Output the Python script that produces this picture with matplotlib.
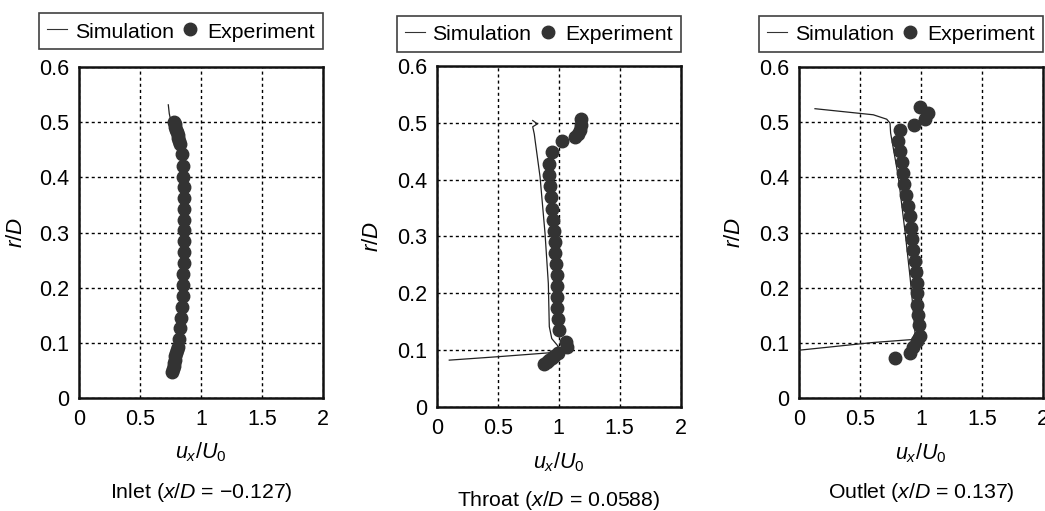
import matplotlib
matplotlib.use("Agg")
import matplotlib.pyplot as plt
from matplotlib.lines import Line2D

plt.rcParams['font.family'] = ['Liberation Sans', 'DejaVu Sans']
plt.rcParams['mathtext.fontset'] = 'custom'
plt.rcParams['mathtext.rm'] = 'Liberation Sans'
plt.rcParams['mathtext.it'] = 'Liberation Sans:italic'
plt.rcParams['mathtext.bf'] = 'Liberation Sans:bold'

# ---------------- data ----------------
# Inlet
inlet_exp_x = [0.775, 0.783, 0.790, 0.797, 0.804, 0.810, 0.815, 0.820, 0.826, 0.842, 0.850, 0.855,
               0.858, 0.861, 0.861, 0.861, 0.861, 0.861, 0.858, 0.858, 0.855, 0.852, 0.850,
               0.843, 0.836, 0.828, 0.820, 0.808, 0.800, 0.795, 0.790, 0.785, 0.780, 0.775,
               0.770, 0.766]
inlet_exp_y = [0.500, 0.496, 0.491, 0.486, 0.481, 0.476, 0.471, 0.466, 0.461, 0.442, 0.421, 0.401,
               0.382, 0.362, 0.343, 0.323, 0.304, 0.284, 0.264, 0.245, 0.225, 0.205, 0.185,
               0.166, 0.146, 0.127, 0.107, 0.092, 0.087, 0.082, 0.076, 0.070, 0.064, 0.058,
               0.053, 0.048]
inlet_sim_x = [0.732, 0.740, 0.755, 0.780, 0.810, 0.830, 0.842, 0.852, 0.857, 0.857, 0.852,
               0.840, 0.820, 0.795, 0.775]
inlet_sim_y = [0.531, 0.515, 0.500, 0.482, 0.462, 0.442, 0.420, 0.380, 0.320, 0.250, 0.200,
               0.150, 0.110, 0.080, 0.060]

# Throat
throat_exp_x = [1.183, 1.183, 1.175, 1.155, 1.134, 1.024, 0.943, 0.923, 0.923, 0.929, 0.934,
                0.943, 0.956, 0.962, 0.970, 0.973, 0.978, 0.984, 0.986, 0.989, 0.989, 0.994,
                1.005, 1.057, 1.065, 0.997, 0.960, 0.943, 0.920, 0.902, 0.880]
throat_exp_y = [0.507, 0.496, 0.487, 0.481, 0.475, 0.468, 0.448, 0.428, 0.408, 0.389, 0.369,
                0.349, 0.329, 0.310, 0.290, 0.271, 0.252, 0.232, 0.213, 0.193, 0.173, 0.154,
                0.135, 0.114, 0.105, 0.095, 0.090, 0.086, 0.082, 0.079, 0.075]
throat_sim_x = [0.787, 0.825, 0.787, 0.800, 0.806, 0.847, 0.888, 0.915, 0.923, 0.943, 0.997,
                0.929, 0.500, 0.103]
throat_sim_y = [0.504, 0.498, 0.493, 0.480, 0.470, 0.405, 0.305, 0.217, 0.141, 0.120, 0.106,
                0.095, 0.088, 0.082]

# Outlet
outlet_exp_x = [0.992, 1.060, 1.033, 0.945, 0.828, 0.809, 0.828, 0.842, 0.855, 0.863, 0.874,
                0.896, 0.910, 0.918, 0.929, 0.937, 0.951, 0.959, 0.964, 0.964, 0.964, 0.973,
                0.984, 0.992, 0.964, 0.937, 0.910, 0.787]
outlet_exp_y = [0.527, 0.517, 0.505, 0.495, 0.486, 0.466, 0.447, 0.427, 0.408, 0.388, 0.368,
                0.348, 0.329, 0.309, 0.288, 0.269, 0.249, 0.229, 0.209, 0.190, 0.169, 0.151,
                0.132, 0.113, 0.103, 0.092, 0.082, 0.073]
outlet_sim_x = [0.131, 0.609, 0.719, 0.746, 0.751, 0.814, 0.870, 0.910, 0.940, 0.951, 0.924,
                0.910, 0.609, 0.0]
outlet_sim_y = [0.524, 0.513, 0.505, 0.498, 0.480, 0.401, 0.300, 0.220, 0.150, 0.118, 0.106,
                0.106, 0.101, 0.087]

captions = [r'Inlet ($x/D$ = $-$0.127)', r'Throat ($x/D$ = 0.0588)', r'Outlet ($x/D$ = 0.137)']
x_ticks = [0, 0.5, 1, 1.5, 2]
x_ticklabels = ['0', '0.5', '1', '1.5', '2']
y_ticks = [0, 0.1, 0.2, 0.3, 0.4, 0.5, 0.6]
y_ticklabels = ['0', '0.1', '0.2', '0.3', '0.4', '0.5', '0.6']

panels = [
    (inlet_sim_x, inlet_sim_y, inlet_exp_x, inlet_exp_y),
    (throat_sim_x, throat_sim_y, throat_exp_x, throat_exp_y),
    (outlet_sim_x, outlet_sim_y, outlet_exp_x, outlet_exp_y),
]

# ---------------- layout ----------------
W, H = 1045, 511
fig = plt.figure(figsize=(W / 100, H / 100), dpi=100)

# (left, top, right, bottom) in pixels
boxes = [(79, 66.7, 323, 398.3), (436.7, 66, 680.7, 406.7), (799, 66.7, 1043, 398.3)]
legend_bottom_px = [49.3, 52, 52]
xlabel_y_px = [452, 462, 453]
caption_y_px = [492, 500, 492]
ylabel_x = [-0.213, -0.22, -0.22]

mcol = '#333333'
for i, (sx, sy, ex, ey) in enumerate(panels):
    l, t, r, b = boxes[i]
    ax = fig.add_axes([l / W, 1 - b / H, (r - l) / W, (b - t) / H])
    ax.set_xlim(0, 2)
    ax.set_ylim(0, 0.6)
    ax.set_xticks(x_ticks)
    ax.set_xticklabels(x_ticklabels)
    ax.set_yticks(y_ticks)
    ax.set_yticklabels(y_ticklabels)
    ax.tick_params(length=0, labelsize=15.5, colors='black')
    ax.tick_params(axis='x', pad=8)
    ax.tick_params(axis='y', pad=7)
    ax.grid(True, color='black', linestyle=(0, (2.2, 2.2)), linewidth=1.0)
    ax.set_axisbelow(True)
    for sp in ax.spines.values():
        sp.set_linewidth(1.8)
        sp.set_color('#111111')

    ax.plot(sx, sy, color='#222222', linewidth=0.9, zorder=3)
    ax.plot(ex, ey, linestyle='none', marker='o', markersize=9,
            markerfacecolor=mcol, markeredgecolor=mcol, zorder=4)

    ax.set_ylabel(r'$r/D$', fontsize=16)
    ax.yaxis.set_label_coords(ylabel_x[i], 0.5)
    cx = (l + r) / 2
    fig.text(cx / W, 1 - xlabel_y_px[i] / H, r'$u_x/U_0$', fontsize=15.5,
             ha='center', va='center')
    fig.text(cx / W, 1 - caption_y_px[i] / H, captions[i], fontsize=15.3,
             ha='center', va='center')

    handles = [Line2D([], [], color='#333333', linewidth=0.8),
               Line2D([], [], linestyle='none', marker='o', markersize=9,
                      markerfacecolor=mcol, markeredgecolor=mcol)]
    yb = (b - legend_bottom_px[i]) / (b - t)
    leg = ax.legend(handles, ['Simulation', 'Experiment'], loc='lower right',
                    bbox_to_anchor=(1.0, yb), ncol=2, fontsize=15.3, frameon=True,
                    fancybox=False, borderaxespad=0, handlelength=0.95,
                    handleheight=1.0, handletextpad=0.35, columnspacing=0.3,
                    borderpad=0.36)
    leg.get_frame().set_edgecolor('#111111')
    leg.get_frame().set_linewidth(1.2)

fig.savefig('out.png', dpi=100)
